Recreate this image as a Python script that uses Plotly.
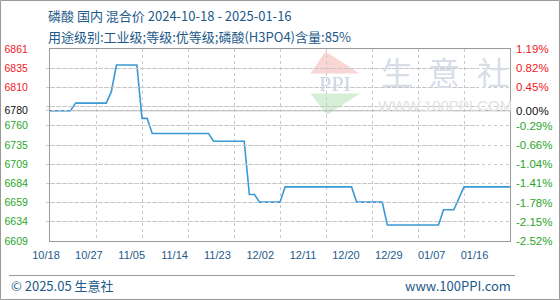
import plotly.graph_objects as go

# ---------------- data ----------------
dates = ["2024-10-18", "2024-10-22", "2024-10-23", "2024-10-29", "2024-10-30", "2024-10-31",
         "2024-11-04", "2024-11-05", "2024-11-06", "2024-11-07", "2024-11-18", "2024-11-19",
         "2024-11-25", "2024-11-26", "2024-11-27", "2024-11-28", "2024-12-02", "2024-12-03",
         "2024-12-16", "2024-12-17", "2024-12-22", "2024-12-23", "2025-01-02", "2025-01-03",
         "2025-01-05", "2025-01-06", "2025-01-07", "2025-01-16"]
prices = [6780, 6780, 6790, 6790, 6805, 6840,
          6840, 6770, 6770, 6750, 6750, 6740,
          6740, 6670, 6670, 6660, 6660, 6680,
          6680, 6660, 6660, 6630, 6630, 6650,
          6650, 6665, 6680, 6680]

x_tick_dates = ["2024-10-18", "2024-10-27", "2024-11-05", "2024-11-14", "2024-11-23", "2024-12-02",
                "2024-12-11", "2024-12-20", "2024-12-29", "2025-01-07", "2025-01-16"]
x_tick_labels = ["10/18", "10/27", "11/05", "11/14", "11/23", "12/02",
                 "12/11", "12/20", "12/29", "01/07", "01/16"]

y_grid_vals = [6861, 6835.8, 6810.6, 6785.4, 6780, 6760.2, 6735, 6709.8, 6684.6, 6659.4, 6634.2, 6609]
y_left_labels = ["6861", "6835", "6810", "", "6780", "6760", "6735", "6709", "6684", "6659", "6634", "6609"]
y_right_labels = ["1.19%", "0.82%", "0.45%", "", "0.00%", "-0.29%", "-0.66%", "-1.04%", "-1.41%",
                  "-1.78%", "-2.15%", "-2.52%"]
base_price = 6780
y_min, y_max = 6609, 6861

title_line1 = "磷酸 国内 混合价 2024-10-18 - 2025-01-16"
title_line2 = "用途级别:工业级;等级:优等级;磷酸(H3PO4)含量:85%"
footer_left = "© 2025.05 生意社"
footer_right = "www.100PPI.com"

# ---------------- styling ----------------
RED = "#f0181e"
GREEN = "#2aa52a"
BLACK = "#111111"
BLUE_TXT = "#1d5a8a"
LINE = "#3a98d6"
GRID = "#c8c8c8"
BORDER = "#9a9a9a"
CJK = "Noto Sans CJK SC"
NUM = "Liberation Sans, Arial, sans-serif"

W, H = 560, 300
L, R, T, B = 40, 510, 49, 241


def px_x(x):
    return (x - L) / (R - L)


def px_y(y):
    return (B - y) / (B - T)


def colored(labels, vals):
    out = []
    for lab, v in zip(labels, vals):
        if lab == "":
            out.append("")
            continue
        c = RED if v > base_price else (BLACK if v == base_price else GREEN)
        out.append(f'<span style="color:{c}">{lab}</span>')
    return out


fig = go.Figure()
fig.add_trace(go.Scatter(x=dates, y=prices, mode="lines",
                         line=dict(color=LINE, width=1.6, shape="linear"),
                         hoverinfo="skip", showlegend=False))
# invisible helpers so the secondary axes get drawn
fig.add_trace(go.Scatter(x=dates, y=prices, mode="lines", xaxis="x2", yaxis="y",
                         line=dict(width=0), opacity=0, hoverinfo="skip", showlegend=False))
fig.add_trace(go.Scatter(x=dates, y=prices, mode="lines", xaxis="x", yaxis="y2",
                         line=dict(width=0), opacity=0, hoverinfo="skip", showlegend=False))

fig.update_layout(
    width=W, height=H,
    margin=dict(l=L, r=W - R, t=T, b=H - B, pad=0, autoexpand=False),
    paper_bgcolor="white", plot_bgcolor="rgba(0,0,0,0)",
    showlegend=False,
    xaxis=dict(domain=[px_x(50), 1], range=[dates[0], dates[-1]], type="date",
               tickvals=x_tick_dates, showticklabels=False, ticks="", automargin=False,
               showgrid=True, gridcolor=GRID, griddash="3px,3px", gridwidth=1,
               showline=True, linecolor=BORDER, linewidth=1, mirror=True, zeroline=False),
    xaxis2=dict(domain=[px_x(46), px_x(474.5)], range=[dates[0], dates[-1]], type="date",
                anchor="y", tickvals=x_tick_dates, ticktext=x_tick_labels, ticks="",
                showgrid=False, showline=False, zeroline=False, automargin=False,
                tickfont=dict(family=NUM, size=11, color=BLUE_TXT), ticklabelstandoff=6),
    yaxis=dict(range=[y_min, y_max], anchor="x", tickvals=y_grid_vals,
               ticktext=colored(y_left_labels, y_grid_vals), ticks="", automargin=False,
               tickfont=dict(family=NUM, size=10.5), ticklabelstandoff=19,
               showgrid=True, gridcolor=GRID, griddash="3px,3px", gridwidth=1,
               showline=True, linecolor=BORDER, linewidth=1, mirror=True, zeroline=False),
    yaxis2=dict(range=[y_min, y_max], overlaying="y", side="right", anchor="x",
                tickvals=y_grid_vals, ticktext=colored(y_right_labels, y_grid_vals), ticks="",
                tickfont=dict(family=NUM, size=11.5), ticklabelstandoff=5, automargin=False,
                showgrid=False, showline=False, zeroline=False),
)

shapes = []
# baseline at base price
shapes.append(dict(type="line", xref="x", yref="y", x0=dates[0], x1=dates[-1],
                   y0=base_price, y1=base_price, line=dict(color=BORDER, width=1), layer="below"))
# watermark logo triangles
shapes.append(dict(type="path", xref="paper", yref="paper", layer="below",
                   path=f"M {px_x(310.5)},{px_y(73.5)} L {px_x(325.5)},{px_y(51.5)} L {px_x(359.5)},{px_y(73.5)} Z",
                   fillcolor="#f8d6d3", line=dict(width=0)))
shapes.append(dict(type="path", xref="paper", yref="paper", layer="below",
                   path=f"M {px_x(310.5)},{px_y(93.5)} L {px_x(360)},{px_y(93.5)} L {px_x(327)},{px_y(115)} Z",
                   fillcolor="#d6efd6", line=dict(width=0)))
# footer separator
shapes.append(dict(type="line", xref="paper", yref="paper", x0=px_x(9), x1=px_x(515),
                   y0=px_y(275.5), y1=px_y(275.5), line=dict(color=BORDER, width=1)))
# outer frame
shapes.append(dict(type="rect", xref="paper", yref="paper", x0=px_x(0.5), x1=px_x(559.5),
                   y0=px_y(0.5), y1=px_y(299.5), line=dict(color=BORDER, width=1)))
fig.update_layout(shapes=shapes)

ann = []
ann.append(dict(text=title_line1, x=px_x(46), y=px_y(15), xref="paper", yref="paper",
                xanchor="left", yanchor="middle", showarrow=False,
                font=dict(family=CJK, size=13, color=BLUE_TXT)))
ann.append(dict(text=title_line2, x=px_x(46), y=px_y(36), xref="paper", yref="paper",
                xanchor="left", yanchor="middle", showarrow=False,
                font=dict(family=CJK, size=13, color=BLUE_TXT)))
ann.append(dict(text=footer_left, x=px_x(9), y=px_y(285), xref="paper", yref="paper",
                xanchor="left", yanchor="middle", showarrow=False,
                font=dict(family=CJK, size=13, color=BLUE_TXT)))
ann.append(dict(text=footer_right, x=px_x(513), y=px_y(285), xref="paper", yref="paper",
                xanchor="right", yanchor="middle", showarrow=False,
                font=dict(family=CJK, size=13, color=BLUE_TXT)))
# watermark texts
ann.append(dict(text="PPI", x=px_x(335), y=px_y(83), xref="paper", yref="paper",
                xanchor="center", yanchor="middle", showarrow=False,
                font=dict(family="Liberation Serif", size=22, color="#cdd6e4")))
for ch, cx in zip("生意社", [397, 444, 492.5]):
    ann.append(dict(text=ch, x=px_x(cx), y=px_y(71), xref="paper", yref="paper",
                    xanchor="center", yanchor="middle", showarrow=False,
                    font=dict(family=CJK, size=32, color="#d8dee8")))
ann.append(dict(text="WWW.100PPI.COM", x=px_x(445), y=px_y(105), xref="paper", yref="paper",
                xanchor="center", yanchor="middle", showarrow=False,
                font=dict(family="Liberation Sans", size=15, color="#e2e2e2")))
fig.update_layout(annotations=ann)

fig.write_html("out.html")
